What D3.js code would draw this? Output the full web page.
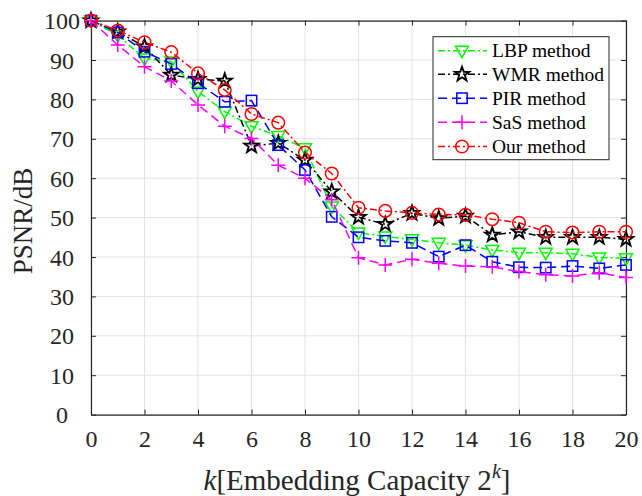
<!DOCTYPE html>
<html><head><meta charset="utf-8">
<script src="https://cdn.jsdelivr.net/npm/d3@7"></script>
<style>body{margin:0;background:#fff}svg{display:block}text{font-family:"Liberation Serif","Times New Roman",serif}</style>
</head><body><svg id="c" width="642" height="496"></svg>
<script>
const kValues = [0,1,2,3,4,5,6,7,8,9,10,11,12,13,14,15,16,17,18,19,20];
const lbp = [100,96.3,90.4,89.6,82.0,76.9,73.2,70.7,67.6,52.8,46.2,45.2,44.5,43.6,43.0,41.8,41.1,41.1,40.8,39.9,39.7];
const wmr = [100,97.2,93.4,86.2,85.1,84.7,68.2,68.9,64.6,56.6,50.1,48.3,51.1,49.8,50.4,45.6,46.4,45.0,45.0,45.0,44.5];
const pir = [100,97.0,92.1,89.0,84.1,79.4,79.7,68.4,62.1,50.2,45.0,44.1,43.6,40.1,43.0,38.8,37.4,37.3,37.7,37.1,38.0];
const sas = [100,93.8,88.3,84.7,78.6,73.2,70.1,63.3,60.0,54.5,39.8,38.0,39.4,38.4,37.7,37.5,36.3,35.5,35.2,36.0,34.8];
const ours = [100,97.5,94.5,92.0,86.6,82.4,76.3,74.1,66.5,61.2,52.5,51.7,51.2,50.8,50.7,49.6,48.7,46.4,46.2,46.4,46.4];
const seriesNames = ["LBP method","WMR method","PIR method","SaS method","Our method"];
const xTicks = [0,2,4,6,8,10,12,14,16,18,20];
const yTicks = [0,10,20,30,40,50,60,70,80,90,100];

const series = [
  {name:seriesNames[0], values:lbp, color:"#00ff00", dash:"7,3,2,3", marker:"tri"},
  {name:seriesNames[1], values:wmr, color:"#000000", dash:"7,3,2,3", marker:"star"},
  {name:seriesNames[2], values:pir, color:"#0000ff", dash:"9,5", marker:"square"},
  {name:seriesNames[3], values:sas, color:"#ff00ff", dash:"9,5", marker:"plus"},
  {name:seriesNames[4], values:ours, color:"#ff0000", dash:"7,3,2,3", marker:"circle"}
];

const svg = d3.select("#c");
const L=91, R=626, T=20.6, B=414.6;
const x = d3.scaleLinear().domain([0,20]).range([L,R]);
const y = d3.scaleLinear().domain([0,100]).range([B,T]);

// grid
const g = svg.append("g");
g.selectAll(".gx").data(xTicks).join("line").attr("x1",d=>x(d)).attr("x2",d=>x(d)).attr("y1",T).attr("y2",B).attr("stroke","#e3e3e3").attr("stroke-width",1);
g.selectAll(".gy").data(yTicks).join("line").attr("y1",d=>y(d)).attr("y2",d=>y(d)).attr("x1",L).attr("x2",R).attr("stroke","#e3e3e3").attr("stroke-width",1);

// axes
const ax = svg.append("g").attr("transform",`translate(0,${B})`).call(d3.axisBottom(x).tickValues(xTicks).tickSizeInner(-5).tickSizeOuter(0).tickPadding(12));
const ay = svg.append("g").attr("transform",`translate(${L},0)`).call(d3.axisLeft(y).tickValues(yTicks).tickSizeInner(-5).tickSizeOuter(0).tickPadding(0));
const axT = svg.append("g").attr("transform",`translate(0,${T})`).call(d3.axisTop(x).tickValues(xTicks).tickSizeInner(-5).tickSizeOuter(0).tickFormat(""));
const ayR = svg.append("g").attr("transform",`translate(${R},0)`).call(d3.axisRight(y).tickValues(yTicks).tickSizeInner(-5).tickSizeOuter(0).tickFormat(""));
[ax,ay,axT,ayR].forEach(a=>{a.select(".domain").attr("stroke","#262626").attr("stroke-width",1.2);a.selectAll(".tick line").attr("stroke","#262626");});
ax.selectAll("text").attr("font-size",24).attr("fill","#262626").attr("font-family","Liberation Serif").attr("dy","0.71em").attr("y",15);
ay.selectAll("text").attr("font-size",24).attr("fill","#262626").attr("font-family","Liberation Serif").attr("text-anchor","middle").attr("x",-29).attr("dy","0.34em");

// markers
function drawMarker(sel, type, color){
  if(type==="circle"){
    sel.append("circle").attr("r",6.3).attr("fill","none").attr("stroke",color).attr("stroke-width",1.5);
  } else if(type==="square"){
    sel.append("rect").attr("x",-5.2).attr("y",-5.2).attr("width",10.4).attr("height",10.4).attr("fill","none").attr("stroke",color).attr("stroke-width",1.5);
  } else if(type==="tri"){
    sel.append("path").attr("d","M-6.5,-4.5L6.5,-4.5L0,7Z").attr("fill","none").attr("stroke",color).attr("stroke-width",1.5);
  } else if(type==="plus"){
    sel.append("path").attr("d","M-7,0L7,0M0,-7L0,7").attr("fill","none").attr("stroke",color).attr("stroke-width",1.5);
  } else if(type==="star"){
    const pts=[];
    for(let i=0;i<10;i++){const r=i%2===0?7.5:3.0;const a=-Math.PI/2+i*Math.PI/5;pts.push([r*Math.cos(a),r*Math.sin(a)]);}
    sel.append("path").attr("d","M"+pts.map(p=>p.join(",")).join("L")+"Z").attr("fill","none").attr("stroke",color).attr("stroke-width",1.9).attr("stroke-linejoin","miter");
  }
}

const line = d3.line().x((d,i)=>x(kValues[i])).y(d=>y(d));
series.forEach(s=>{
  const sg = svg.append("g");
  sg.append("path").datum(s.values).attr("d",line).attr("fill","none").attr("stroke",s.color).attr("stroke-width",1.5).attr("stroke-dasharray",s.dash);
  s.values.forEach((v,i)=>{
    const m = sg.append("g").attr("transform",`translate(${x(kValues[i])},${y(v)})`);
    drawMarker(m,s.marker,s.color);
  });
});

// legend
const lg = svg.append("g");
lg.append("rect").attr("x",433).attr("y",36.7).attr("width",176).attr("height",123).attr("fill","#fff").attr("stroke","#262626").attr("stroke-width",1);
const rowY = [50.7,74.3,98.2,122.2,146.5];
series.forEach((s,i)=>{
  const yy=rowY[i];
  lg.append("line").attr("x1",438).attr("x2",487).attr("y1",yy).attr("y2",yy).attr("stroke",s.color).attr("stroke-width",1.5).attr("stroke-dasharray",s.dash);
  const m = lg.append("g").attr("transform",`translate(462,${yy})`);
  drawMarker(m,s.marker,s.color);
  lg.append("text").attr("x",492).attr("y",yy+6.5).attr("font-size",19.5).attr("fill","#000").text(s.name);
});

// axis titles
svg.append("text").attr("transform","translate(32,221) rotate(-90)").attr("text-anchor","middle").attr("font-size",27).attr("fill","#262626").text("PSNR/dB");
const xt = svg.append("text").attr("x",357).attr("y",490).attr("text-anchor","middle").attr("font-size",29).attr("fill","#262626");
xt.append("tspan").attr("font-style","italic").text("k");
xt.append("tspan").text("[Embedding Capacity 2");
xt.append("tspan").attr("font-style","italic").attr("font-size",20).attr("dy",-12).text("k");
xt.append("tspan").attr("dy",12).text("]");
</script></body></html>
